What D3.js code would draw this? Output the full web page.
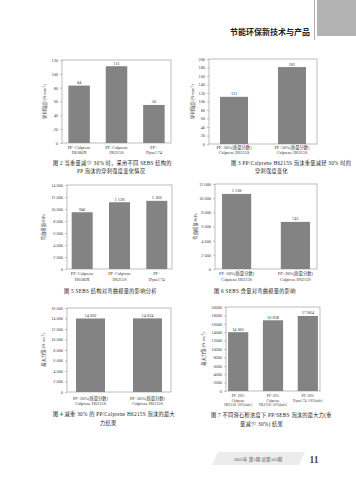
<!DOCTYPE html>
<html><head><meta charset="utf-8">
<script src="https://cdn.jsdelivr.net/npm/d3@7"></script>
<style>body{margin:0;background:#fff}svg{display:block}text{font-family:"Liberation Serif","Noto Sans CJK SC",serif}</style>
</head><body>
<svg id="page" width="356" height="480"></svg>
<script>
// ---- data ----
const cats2 = [["PP+Calprene","H6180X"],["PP+Calprene","H6215S"],["PP+","Dynel 74"]];
const vals2 = [83, 111, 55];
const lab2 = ["84","111","56"];
const ticks2 = [0,20,40,60,80,100,120];

const cats3 = [["PP+20%(质量分数)","Calprene H6215S"],["PP+30%(质量分数)","Calprene H6215S"]];
const vals3 = [111, 181];
const lab3 = ["111","181"];
const ticks3 = [0,20,40,60,80,100,120,140,160,180,200];

const cats5 = [["PP+Calprene","H6180X"],["PP+Calprene","H6215S"],["PP+","Dynel 74"]];
const vals5 = [9460, 11128, 11360];
const lab5 = ["946","1 128","1 160"];
const ticks5 = [0,2000,4000,6000,8000,10000,12000,14000];

const cats6 = [["PP+20%(质量分数)","Calprene H6215S"],["PP+30%(质量分数)","Calprene H6215S"]];
const vals6 = [10600, 6650];
const lab6 = ["1 128","741"];
const ticks6 = [0,2000,4000,6000,8000,10000,12000];

const cats4 = [["PP+20%(质量分数)","Calprene H6215S"],["PP+30%(质量分数)","Calprene H6215S"]];
const vals4 = [14002, 14024];
const lab4 = ["14 002","14 024"];
const ticks4 = [0,2000,4000,6000,8000,10000,12000,14000,16000];

const cats7 = [["PP+20%","Calprene","H6215S+20%(talc)"],["PP+20%","Calprene","H6215S+10%(talc)"],["PP+20%","Dynel 74+10%(talc)"]];
const vals7 = [14005, 16838, 17864];
const lab7 = ["14 005","16 838","17 864"];
const ticks7 = [0,2000,4000,6000,8000,10000,12000,14000,16000,18000,20000];

const yTitle1 = "穿刺强度/(N·mm⁻¹)";
const yTitle2 = "弯曲模量/MPa";
const yTitle3 = "最大力值/(N·cm⁻²)";

// ---- drawing ----
const svg = d3.select("#page");
const sp = v => d3.format(",")(v).replace(/,/g," ");
const ns = v => String(v);

function chart(o){
  const g = svg.append("g");
  const x = d3.scaleBand().domain(d3.range(o.cats.length)).range([o.x0,o.x1]).paddingInner(o.pi).paddingOuter(o.po);
  const y = d3.scaleLinear().domain([0, d3.max(o.ticks)]).range([o.y0,o.y1]);
  g.append("rect").attr("x",o.x0).attr("y",o.y1).attr("width",o.x1-o.x0).attr("height",o.y0-o.y1)
    .attr("fill","none").attr("stroke","#a0a0a0").attr("stroke-width",0.7);
  const ax = d3.axisLeft(y).tickValues(o.ticks).tickFormat(o.fmt).tickSize(2).tickPadding(2);
  const a = g.append("g").attr("transform",`translate(${o.x0},0)`).call(ax);
  a.select(".domain").remove();
  a.selectAll("line").attr("stroke","#888").attr("stroke-width",0.5);
  a.selectAll("text").attr("font-size",4.3).attr("fill","#444").attr("font-family","Liberation Serif,serif");
  g.selectAll(".bar").data(o.vals).join("rect")
    .attr("x",(d,i)=>x(i)).attr("width",x.bandwidth())
    .attr("y",d=>y(d)).attr("height",d=>o.y0-y(d)).attr("fill","#838383");
  g.selectAll(".vl").data(o.vals).join("text")
    .attr("x",(d,i)=>x(i)+x.bandwidth()/2).attr("y",d=>y(d)-1.5)
    .attr("text-anchor","middle").attr("font-size",4.4).attr("fill","#333")
    .attr("font-family","Liberation Serif,serif").text((d,i)=>o.labs[i]);
  o.cats.forEach((c,i)=>{
    c.forEach((line,j)=>{
      g.append("text").attr("x",x(i)+x.bandwidth()/2).attr("y",o.y0+o.cy+j*o.cdy)
        .attr("text-anchor","middle").attr("font-size",o.cfs||4.3).attr("fill","#333").text(line);
    });
  });
  g.append("text").attr("transform",`translate(${o.tx},${(o.y0+o.y1)/2}) rotate(-90)`)
    .attr("text-anchor","middle").attr("font-size",4.3).attr("fill","#444").text(o.title);
  o.cap.forEach((c,j)=>{
    g.append("text").attr("x",c[0]).attr("y",c[1]).attr("font-size",5.2).attr("letter-spacing",0.3)
      .attr("fill","#222").text(c[2]);
  });
}

chart({cats:cats2,vals:vals2,labs:lab2,ticks:ticks2,fmt:ns,x0:62,x1:171,y0:143,y1:60,pi:0.425,po:0.17,
  cy:5.5,cdy:5,tx:46,title:yTitle1,
  cap:[[53,165,"图 2   当重量减少 30% 时，采用不同 SEBS 结构的"],[77,173,"PP 泡沫的穿刺强度变化情况"]]});
chart({cats:cats3,vals:vals3,labs:lab3,ticks:ticks3,fmt:ns,x0:209,x1:317,y0:144,y1:59,pi:0.517,po:0.19,
  cy:5,cdy:5,tx:194,title:yTitle1,
  cap:[[231,165,"图 3   PP/Calprene H6215S 泡沫重量减轻 30% 时的"],[255,173,"穿刺强度变化"]]});
chart({cats:cats5,vals:vals5,labs:lab5,ticks:ticks5,fmt:sp,x0:67,x1:172,y0:269,y1:185,pi:0.437,po:0.126,
  cy:6,cdy:6,tx:45,title:yTitle2,
  cap:[[64,293,"图 5   SEBS 结构对弯曲模量的影响分析"]]});
chart({cats:cats6,vals:vals6,labs:lab6,ticks:ticks6,fmt:sp,x0:215,x1:317,y0:269,y1:184,pi:0.504,po:0.12,
  cy:6,cdy:6,tx:197,title:yTitle2,
  cap:[[214,293,"图 6   SEBS 含量对弯曲模量的影响"]]});
chart({cats:cats4,vals:vals4,labs:lab4,ticks:ticks4,fmt:sp,x0:67,x1:171,y0:392,y1:308,pi:0.491,po:0.158,
  cy:7.5,cdy:5,tx:45,title:yTitle3,
  cap:[[53,416,"图 4   减重 30% 的 PP/Calprene H6215S 泡沫的最大"],[100,425,"力结果"]]});
chart({cats:cats7,vals:vals7,labs:lab7,ticks:ticks7,fmt:ns,x0:226,x1:320,y0:391,y1:307,pi:0.42,po:0.06,
  cy:6,cdy:4.6,cfs:3.6,tx:205,title:yTitle3,
  cap:[[211,417,"图 7   不同滑石粉浓度下 PP/SEBS 泡沫的最大力(重"],[240,426,"量减少 30%) 结果"]]});

// header
svg.append("rect").attr("x",317).attr("y",0).attr("width",39).attr("height",36).attr("fill","#b3b3b3");
svg.append("line").attr("x1",314.5).attr("x2",314.5).attr("y1",0).attr("y2",40).attr("stroke","#999").attr("stroke-width",0.8);
svg.append("text").attr("x",310).attr("y",35).attr("text-anchor","end").attr("font-size",8)
  .attr("font-weight","bold").attr("fill","#222").attr("font-family","Noto Sans CJK SC,sans-serif").text("节能环保新技术与产品");
// footer
svg.append("path").attr("d","M212,465 L218,452 L305,452 L299,465 Z").attr("fill","#ececec");
svg.append("text").attr("x",258).attr("y",461).attr("text-anchor","middle").attr("font-size",4.6)
  .attr("fill","#555").attr("font-family","Noto Sans CJK SC,sans-serif").text("2025年   第1期   总第565期");
svg.append("text").attr("x",314).attr("y",463).attr("text-anchor","middle").attr("font-size",9.5)
  .attr("font-weight","bold").attr("fill","#444").attr("font-family","Liberation Sans,sans-serif").text("11");
</script>
</body></html>
